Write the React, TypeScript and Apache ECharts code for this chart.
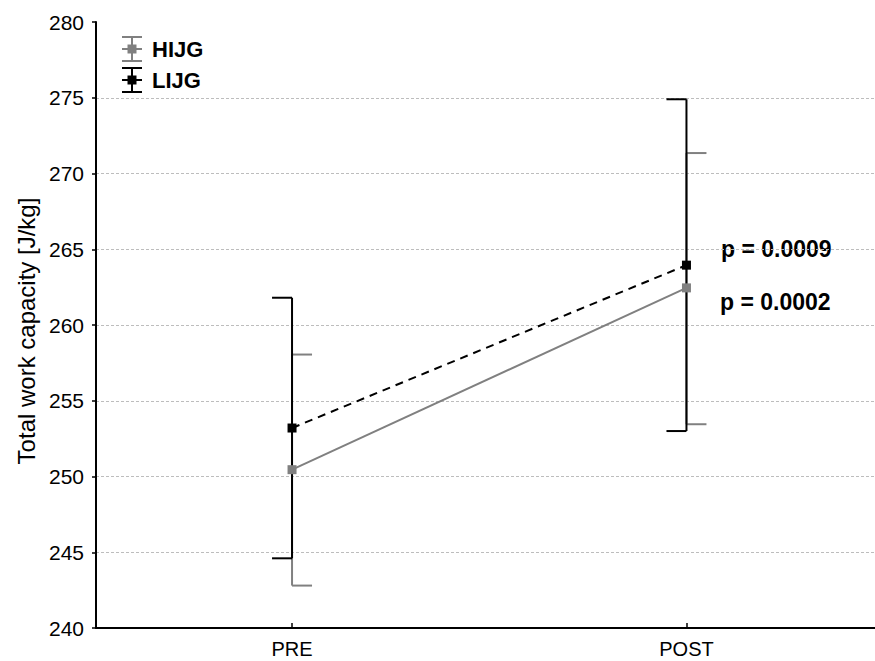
import React, { useEffect, useRef } from "react";
import * as echarts from "echarts";

const categories = ["PRE", "POST"];
const hijgMean = [250.45, 262.45];
const hijgUpper = [258.05, 271.35];
const hijgLower = [242.8, 253.45];
const lijgMean = [253.2, 263.95];
const lijgUpper = [261.8, 274.9];
const lijgLower = [244.6, 253.0];
const yMin = 240;
const yMax = 280;
const yInterval = 5;
const pLabels = ["p = 0.0009", "p = 0.0002"];
const seriesNames = ["HIJG", "LIJG"];
const yTitle = "Total work capacity [J/kg]";

const GRAY = "#808080";
const BLACK = "#000000";
const FONT = "'Liberation Sans', Arial, sans-serif";

function errorBarSeries(name: string, lower: number[], upper: number[], color: string, dir: number, z: number) {
  return {
    type: "custom",
    name,
    z,
    data: categories.map((_, i) => [i, lower[i], upper[i]]),
    encode: { x: 0, y: [1, 2] },
    renderItem: (params: any, api: any) => {
      const x = api.value(0);
      const lo = api.coord([x, api.value(1)]);
      const hi = api.coord([x, api.value(2)]);
      const cap = 20 * dir;
      const style = { stroke: color, lineWidth: 2, fill: "none" };
      return {
        type: "group",
        children: [
          { type: "line", shape: { x1: lo[0], y1: lo[1], x2: hi[0], y2: hi[1] }, style },
          { type: "line", shape: { x1: hi[0], y1: hi[1], x2: hi[0] + cap, y2: hi[1] }, style },
          { type: "line", shape: { x1: lo[0], y1: lo[1], x2: lo[0] + cap, y2: lo[1] }, style },
        ],
      };
    },
  };
}

function legendItem(cy: number, color: string, label: string) {
  const cx = 132;
  const s = { stroke: color, lineWidth: 2 };
  return [
    { type: "line", shape: { x1: cx, y1: cy - 12, x2: cx, y2: cy + 12 }, style: s },
    { type: "line", shape: { x1: cx - 10, y1: cy - 12, x2: cx + 10, y2: cy - 12 }, style: s },
    { type: "line", shape: { x1: cx - 10, y1: cy + 12, x2: cx + 10, y2: cy + 12 }, style: s },
    { type: "line", shape: { x1: cx - 10, y1: cy, x2: cx + 10, y2: cy }, style: s },
    { type: "rect", shape: { x: cx - 4.5, y: cy - 4.5, width: 9, height: 9 }, style: { fill: color } },
    {
      type: "text",
      x: 152,
      y: cy,
      style: { text: label, font: `bold 22px ${FONT}`, fill: "#000", verticalAlign: "middle", align: "left" },
    },
  ];
}

export default function App() {
  const ref = useRef<HTMLDivElement>(null);
  useEffect(() => {
    if (!ref.current) return;
    const chart = echarts.init(ref.current, null, { renderer: "svg" });
    chart.setOption({
      animation: false,
      backgroundColor: "#ffffff",
      grid: { left: 96, top: 22, height: 606, right: 0 },
      xAxis: {
        type: "value",
        min: -0.497,
        max: 1.478,
        axisLine: { onZero: false, lineStyle: { color: "#000", width: 2 } },
        axisTick: { show: true, customValues: [0, 1], inside: true, length: 5, lineStyle: { color: "#000", width: 1.5 } },
        axisLabel: {
          customValues: [0, 1],
          formatter: (v: number) => categories[Math.round(v)] ?? "",
          color: "#000",
          fontSize: 20,
          fontFamily: FONT,
          margin: 11,
        },
        splitLine: { show: false },
      },
      yAxis: {
        type: "value",
        min: yMin,
        max: yMax,
        interval: yInterval,
        axisLine: { show: true, onZero: false, lineStyle: { color: "#000", width: 2 } },
        axisTick: { show: true, inside: false, length: 4, lineStyle: { color: "#000", width: 1.5 } },
        axisLabel: { color: "#000", fontSize: 21, fontFamily: FONT, margin: 12 },
        splitLine: { show: true, showMaxLine: false, showMinLine: false, lineStyle: { color: "#bdbdbd", type: [3, 2], width: 1 } },
      },
      graphic: [
        ...legendItem(49, GRAY, seriesNames[0]),
        ...legendItem(80, BLACK, seriesNames[1]),
        {
          type: "text",
          x: 26,
          y: 331,
          rotation: Math.PI / 2,
          style: { text: yTitle, font: `24px ${FONT}`, fill: "#000", align: "center", verticalAlign: "middle" },
        },
        {
          type: "text",
          x: 721,
          y: 249,
          style: { text: pLabels[0], font: `bold 23px ${FONT}`, fill: "#000", verticalAlign: "middle" },
        },
        {
          type: "text",
          x: 720,
          y: 302,
          style: { text: pLabels[1], font: `bold 23px ${FONT}`, fill: "#000", verticalAlign: "middle" },
        },
      ],
      series: [
        errorBarSeries("HIJG err", hijgLower, hijgUpper, GRAY, 1, 2),
        errorBarSeries("LIJG err", lijgLower, lijgUpper, BLACK, -1, 3),
        {
          type: "line",
          name: seriesNames[0],
          data: hijgMean.map((v, i) => [i, v]),
          z: 4,
          symbol: "rect",
          symbolSize: 9,
          itemStyle: { color: GRAY },
          lineStyle: { color: GRAY, width: 2 },
        },
        {
          type: "line",
          name: seriesNames[1],
          data: lijgMean.map((v, i) => [i, v]),
          z: 5,
          symbol: "rect",
          symbolSize: 9,
          itemStyle: { color: BLACK },
          lineStyle: { color: BLACK, width: 2, type: [8, 6] },
        },
      ],
    });
    return () => chart.dispose();
  }, []);
  return <div ref={ref} style={{ position: "fixed", left: 0, top: 0, width: 875, height: 661 }} />;
}
